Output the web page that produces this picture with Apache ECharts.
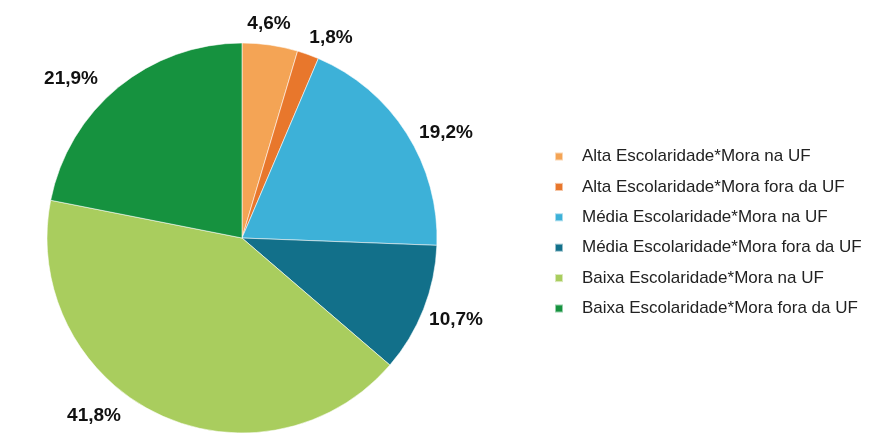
<!DOCTYPE html>
<html>
<head>
<meta charset="utf-8">
<script src="https://cdn.jsdelivr.net/npm/echarts@6/dist/echarts.min.js"></script>
<style>
  html, body { margin: 0; padding: 0; background: #ffffff; }
  #chart { width: 870px; height: 434px; }
</style>
</head>
<body>
<div id="chart"></div>
<script>
// Distribuição por escolaridade e local de moradia (%)
const categories = [
  'Alta Escolaridade*Mora na UF',
  'Alta Escolaridade*Mora fora da UF',
  'Média Escolaridade*Mora na UF',
  'Média Escolaridade*Mora fora da UF',
  'Baixa Escolaridade*Mora na UF',
  'Baixa Escolaridade*Mora fora da UF'
];
const values = [4.6, 1.8, 19.2, 10.7, 41.8, 21.9];
const colors = ['#f4a455', '#e8772c', '#3db1d8', '#12708a', '#a9cd5e', '#16923f'];

// Where each percentage label sits (label centre, px)
const labelSpots = [[269, 24], [331, 38], [446, 133], [456, 320], [94, 416], [71, 79]];

const chart = echarts.init(document.getElementById('chart'));

chart.setOption({
  animation: false,
  color: colors,
  legend: {
    orient: 'vertical',
    left: 549,
    top: 143,
    icon: 'rect',
    itemWidth: 8,
    itemHeight: 8,
    itemGap: 13.4,
    textStyle: {
      fontFamily: 'Liberation Sans, Arial, sans-serif',
      fontSize: 17,
      color: '#222222',
      lineHeight: 17,
      padding: [0, 0, 0, 14]
    },
    data: categories
  },
  series: [{
    type: 'pie',
    center: [242, 238],
    radius: 195,
    startAngle: 90,
    clockwise: true,
    itemStyle: {
      borderColor: 'rgba(255,255,255,0.55)',
      borderWidth: 1
    },
    label: {
      show: true,
      position: 'outside',
      fontFamily: 'Liberation Sans, Arial, sans-serif',
      fontSize: 19,
      fontWeight: 'bold',
      color: '#111111',
      formatter: p => p.value.toFixed(1).replace('.', ',') + '%'
    },
    labelLine: { show: false },
    labelLayout: p => ({
      x: labelSpots[p.dataIndex][0],
      y: labelSpots[p.dataIndex][1],
      align: 'center',
      verticalAlign: 'middle'
    }),
    emphasis: { disabled: true },
    data: categories.map((name, i) => ({ name, value: values[i] }))
  }]
});
</script>
</body>
</html>
